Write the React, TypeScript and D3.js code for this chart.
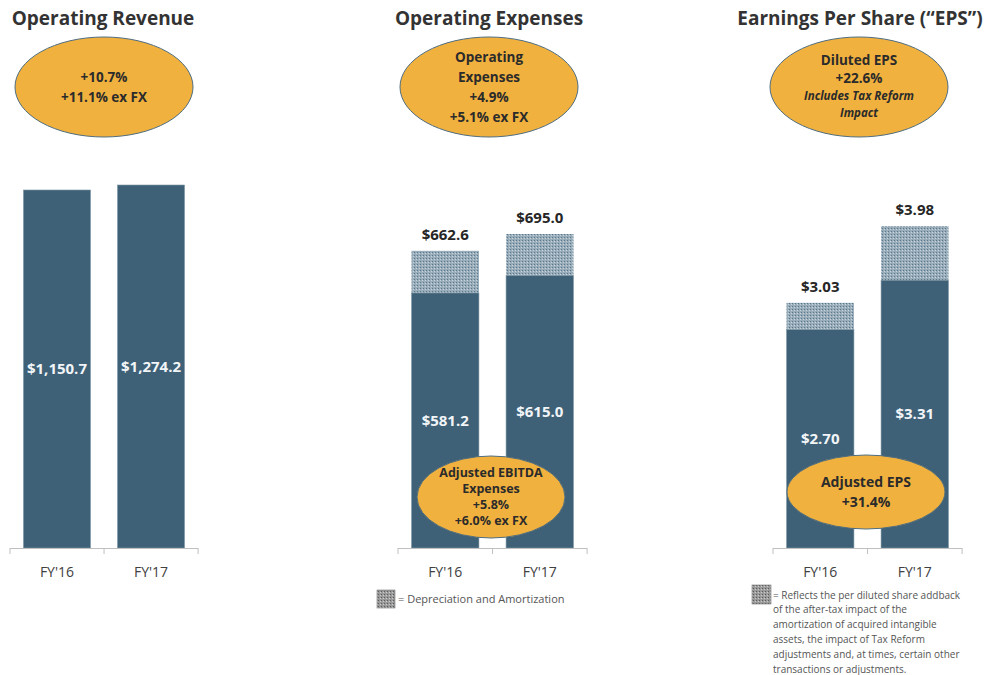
import React from 'react';
import * as d3 from 'd3';

const categories = ["FY'16", "FY'17"];
const revenue = [1150.7, 1274.2];
const opexAdjusted = [581.2, 615.0];
const opexTotal = [662.6, 695.0];
const epsAdjusted = [2.7, 3.31];
const epsDiluted = [3.03, 3.98];

const titles = ['Operating Revenue', 'Operating Expenses', 'Earnings Per Share (\u201cEPS\u201d)'];
const revenueBubble = ['+10.7%', '+11.1% ex FX'];
const opexBubble = ['Operating', 'Expenses', '+4.9%', '+5.1% ex FX'];
const epsBubble = ['Diluted EPS', '+22.6%', 'Includes Tax Reform', 'Impact'];
const ebitdaBubble = ['Adjusted EBITDA', 'Expenses', '+5.8%', '+6.0% ex FX'];
const adjEpsBubble = ['Adjusted EPS', '+31.4%'];
const opexLegend = '= Depreciation and Amortization';
const epsNote = [
  '= Reflects the per diluted share addback',
  'of the after-tax impact of the',
  'amortization of acquired intangible',
  'assets, the impact of Tax Reform',
  'adjustments and, at times, certain other',
  'transactions or adjustments.',
];

const FONT = '"Open Sans", "DejaVu Sans", sans-serif';
const BAR = '#3e6177';
const GOLD = '#f1b13e';
const BASE = 548;

const fmtMoney = d3.format('$,.1f');
const fmtEps = d3.format('$.2f');

type PanelProps = {
  x0: number;
  x1: number;
  yDomain: [number, number];
  yTop: number;
  solid: number[];
  total?: number[];
  fmt: (v: number) => string;
};

const Panel = ({ x0, x1, yDomain, yTop, solid, total, fmt }: PanelProps) => {
  const x = d3.scaleBand<string>().domain(categories).range([x0, x1]).paddingInner(0.287).paddingOuter(0.143);
  const y = d3.scaleLinear().domain(yDomain).range([BASE, yTop]);
  const step = x.step();
  const ticks = d3.range(categories.length + 1).map((i) => x0 + i * step);
  return (
    <g>
      {categories.map((c, i) => {
        const bx = x(c)!;
        const bw = x.bandwidth();
        const ys = y(solid[i]);
        return (
          <g key={c}>
            {total && (
              <rect x={bx} y={y(total[i])} width={bw} height={ys - y(total[i])} fill="url(#hatch)" />
            )}
            <rect x={bx} y={ys} width={bw} height={BASE - ys} fill={BAR} stroke="#7f96a5" strokeWidth={0.6} />
            <text x={bx + bw / 2} y={(ys + BASE) / 2} dy="0.35em" textAnchor="middle" fill="#f2f5f7"
              fontFamily={FONT} fontWeight={700} fontSize={15}>{fmt(solid[i])}</text>
            {total && (
              <text x={bx + bw / 2} y={y(total[i]) - 11} textAnchor="middle" fill="#262626"
                fontFamily={FONT} fontWeight={700} fontSize={15}>{fmt(total[i])}</text>
            )}
            <text x={bx + bw / 2} y={577} textAnchor="middle" fill="#404040" fontFamily={FONT} fontSize={14}>{c}</text>
          </g>
        );
      })}
      <line x1={x0} x2={x1} y1={BASE + 0.5} y2={BASE + 0.5} stroke="#bfbfbf" />
      {ticks.map((t) => (
        <line key={t} x1={t} x2={t} y1={BASE} y2={BASE + 6} stroke="#bfbfbf" />
      ))}
    </g>
  );
};

const Bubble = ({ cx, cy, rx, ry, lines, lineH, size, italicFrom = 99, dy0 }:
  { cx: number; cy: number; rx: number; ry: number; lines: string[]; lineH: number; size: number; italicFrom?: number; dy0?: number }) => {
  const start = dy0 !== undefined ? dy0 : -((lines.length - 1) * lineH) / 2;
  return (
    <g>
      <ellipse cx={cx} cy={cy} rx={rx} ry={ry} fill={GOLD} stroke="#4f6d80" strokeWidth={1} />
      {lines.map((l, i) => (
        <text key={i} x={cx} y={cy + start + i * lineH} dy="0.35em" textAnchor="middle" fill="#2b2b2b"
          fontFamily={FONT} fontWeight={700} fontStyle={i >= italicFrom ? 'italic' : 'normal'}
          fontSize={i >= italicFrom ? size - 2 : size}>{l}</text>
      ))}
    </g>
  );
};

export default function App() {
  return (
    <svg width={988} height={675} style={{ position: 'absolute', left: 0, top: 0, background: '#fff' }}>
      <defs>
        <pattern id="hatch" width={3} height={3} patternUnits="userSpaceOnUse">
          <rect width={3} height={3} fill="#98acba" />
          <rect width={1} height={1} fill="#5a778b" />
          <rect x={2} y={1} width={1} height={1} fill="#c8d3db" />
        </pattern>
        <pattern id="hatchGray" width={3} height={3} patternUnits="userSpaceOnUse">
          <rect width={3} height={3} fill="#9a9a9a" />
          <rect width={1} height={1} fill="#5c5c5c" />
          <rect x={2} y={1} width={1} height={1} fill="#cccccc" />
        </pattern>
      </defs>

      {[103, 489, 860].map((cx, i) => (
        <text key={i} x={cx} y={25} textAnchor="middle" fill="#333" fontFamily={FONT} fontWeight={700} fontSize={19}>
          {titles[i]}
        </text>
      ))}

      <Bubble cx={104} cy={87} rx={89} ry={50} lines={revenueBubble} lineH={20} size={13.5} />
      <Bubble cx={489} cy={87} rx={89} ry={50} lines={opexBubble} lineH={20} size={13.5} />
      <Bubble cx={859} cy={87} rx={89} ry={50} lines={epsBubble} lineH={17.5} size={13.5} italicFrom={2} />

      <Panel x0={10} x1={198} yDomain={[-7700, 1274.2]} yTop={185} solid={revenue} fmt={fmtMoney} />
      <Panel x0={398} x1={587} yDomain={[89, 695]} yTop={234} solid={opexAdjusted} total={opexTotal} fmt={fmtMoney} />
      <Panel x0={773} x1={962} yDomain={[0, 3.98]} yTop={226} solid={epsAdjusted} total={epsDiluted} fmt={fmtEps} />

      <Bubble cx={491} cy={497} rx={74} ry={41} lines={ebitdaBubble} lineH={16} size={12.5} />
      <Bubble cx={866} cy={492} rx={79} ry={37} lines={adjEpsBubble} lineH={20} size={14} />

      <rect x={377} y={590} width={18} height={18} fill="url(#hatchGray)" stroke="#777" strokeWidth={0.6} />
      <text x={398} y={599} dy="0.35em" fill="#555" fontFamily={FONT} fontSize={11}>{opexLegend}</text>

      <rect x={752} y={585} width={19} height={19} fill="url(#hatchGray)" stroke="#777" strokeWidth={0.6} />
      {epsNote.map((l, i) => (
        <text key={i} x={773} y={595 + i * 14.8} dy="0.35em" fill="#555" fontFamily={FONT} fontSize={10}>{l}</text>
      ))}
    </svg>
  );
}
